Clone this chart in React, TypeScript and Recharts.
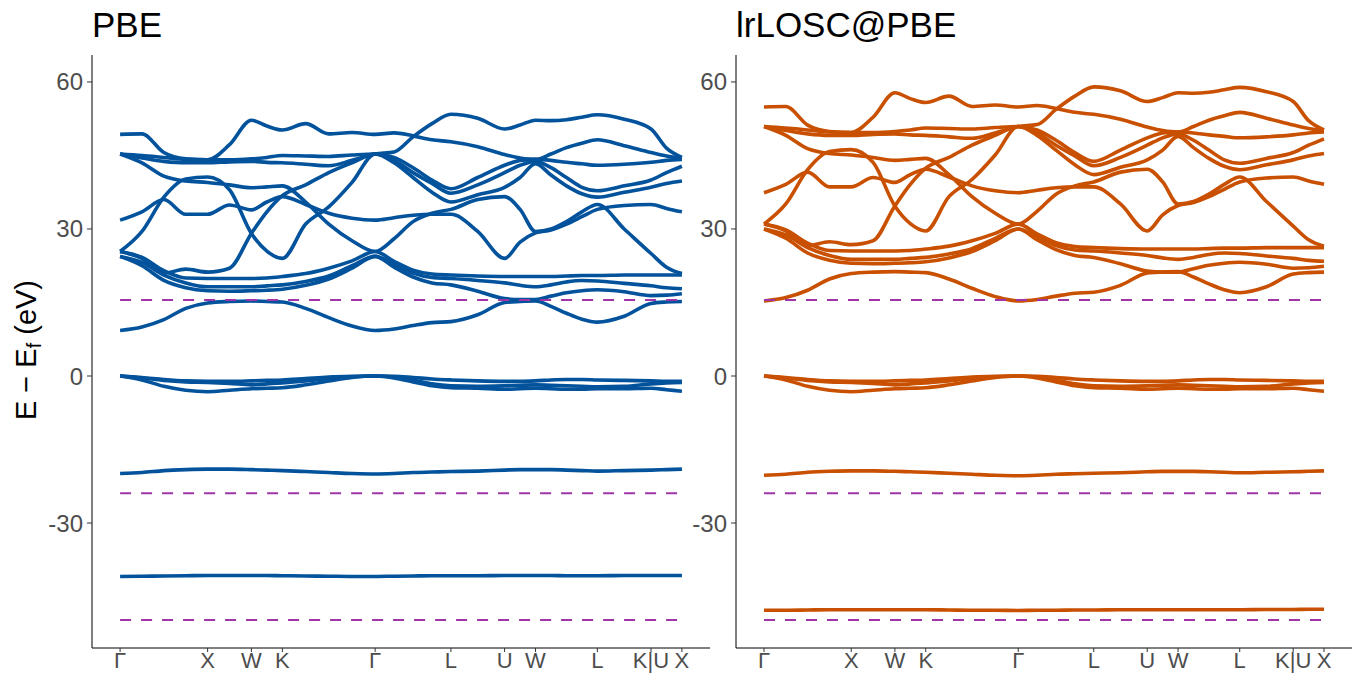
import React from 'react';
import { LineChart, Line, XAxis, YAxis, ReferenceLine } from 'recharts';

// k-path sample positions (units of 2π/a) along Γ-X-W-K-Γ-L-U-W-L-K|U-X
const kGrid = [0, 0.25, 0.5, 0.75, 1, 1.25, 1.5, 1.677, 1.854, 2.12, 2.384, 2.65, 2.914, 3.13, 3.347, 3.563, 3.78, 4.086, 4.393, 4.57, 4.746, 4.923, 5.1, 5.276, 5.453, 5.76, 6.066, 6.243, 6.419];
const kTicks = [0, 1, 1.5, 1.854, 2.914, 3.78, 4.393, 4.746, 5.453, 6.066, 6.419];
const kLabels = ['Γ', 'X', 'W', 'K', 'Γ', 'L', 'U', 'W', 'L', 'K|U', 'X'];
const yTicks = [-30, 0, 30, 60];
const refLevels = [15.5, -23.9, -49.8];

// ---------- PBE ----------
const pbeCore = [-40.9, -40.85, -40.8, -40.75, -40.7, -40.7, -40.7, -40.7, -40.75, -40.8, -40.85, -40.9, -40.9, -40.85, -40.8, -40.75, -40.75, -40.75, -40.7, -40.7, -40.7, -40.7, -40.75, -40.75, -40.75, -40.7, -40.7, -40.7, -40.7];
const pbeS = [-19.9, -19.7, -19.3, -19.1, -19.0, -19.0, -19.1, -19.2, -19.3, -19.5, -19.7, -19.9, -20.0, -19.9, -19.7, -19.6, -19.5, -19.4, -19.2, -19.1, -19.1, -19.1, -19.2, -19.3, -19.4, -19.3, -19.2, -19.1, -19.0];
const pbeV1 = [0, -0.3, -0.7, -1.0, -1.1, -1.1, -1.0, -0.9, -0.8, -0.5, -0.2, -0.05, 0, -0.05, -0.3, -0.6, -0.8, -1.0, -1.1, -1.1, -1.0, -0.8, -0.7, -0.7, -0.8, -0.9, -1.0, -1.1, -1.1];
const pbeV2 = [0, -0.4, -0.9, -1.2, -1.3, -1.5, -1.8, -1.6, -1.4, -1.0, -0.5, -0.15, 0, -0.2, -0.8, -1.6, -2.0, -2.1, -2.0, -1.9, -1.8, -1.9, -2.0, -2.1, -2.2, -2.1, -1.6, -1.4, -1.3];
const pbeV3 = [0, -0.8, -2.1, -2.9, -3.2, -2.9, -2.6, -2.5, -2.4, -1.8, -1.0, -0.3, 0, -0.4, -1.2, -2.0, -2.4, -2.5, -2.7, -2.6, -2.5, -2.6, -2.7, -2.7, -2.6, -2.6, -2.5, -2.8, -3.1];
const pbeC1 = [9.3, 10.0, 11.5, 13.8, 14.9, 15.2, 15.3, 15.2, 15.1, 13.8, 11.9, 10.2, 9.3, 9.6, 10.3, 10.9, 11.1, 12.5, 15.0, 15.2, 15.3, 14.2, 12.8, 11.6, 11.0, 12.2, 14.8, 15.1, 15.2];
const pbeC2 = [24.4, 22.5, 19.5, 18.0, 17.4, 17.3, 17.4, 17.5, 17.7, 18.5, 19.8, 22.0, 24.4, 22.2, 20.2, 19.0, 18.6, 17.3, 15.8, 15.6, 15.6, 16.3, 17.0, 17.4, 17.6, 17.2, 16.4, 16.5, 16.8];
const pbeC3 = [24.4, 23.2, 20.6, 19.0, 18.2, 18.2, 18.2, 18.4, 18.6, 19.3, 20.4, 22.5, 24.4, 22.8, 21.0, 20.1, 19.9, 19.5, 19.0, 18.5, 18.2, 18.6, 19.2, 19.5, 19.4, 18.9, 18.4, 18.0, 17.8];
const pbeC4 = [25.4, 24.2, 21.5, 20.0, 19.9, 19.9, 19.9, 20.0, 20.3, 20.9, 22.0, 23.5, 25.4, 23.4, 21.6, 20.8, 20.6, 20.4, 20.3, 20.3, 20.3, 20.3, 20.4, 20.5, 20.5, 20.6, 20.6, 20.6, 20.6];
const pbeC5 = [25.4, 24.0, 21.0, 21.8, 21.2, 22.0, 29.1, 33.5, 36.8, 39.0, 41.5, 43.5, 45.3, 43.5, 40.5, 37.5, 35.5, 37.0, 38.5, 40.5, 43.3, 41.0, 38.8, 37.2, 36.5, 37.5, 38.5, 39.3, 39.8];
const pbeC6 = [25.4, 29.5, 36.5, 40.2, 40.6, 38.0, 29.1, 25.5, 24.0, 31.0, 34.5, 39.5, 45.3, 44.0, 41.5, 39.3, 37.3, 39.0, 41.5, 43.0, 43.8, 42.5, 40.5, 38.5, 37.8, 38.8, 40.0, 41.5, 42.8];
const pbeC7 = [31.8, 33.5, 36.0, 33.0, 33.0, 34.9, 33.9, 35.5, 36.6, 35.0, 33.2, 32.2, 31.8, 32.3, 32.8, 33.0, 33.0, 29.5, 24.0, 27.3, 29.2, 29.8, 31.0, 32.5, 34.0, 34.8, 35.0, 34.2, 33.5];
const pbeC8 = [45.3, 43.5, 40.8, 39.8, 39.5, 39.0, 38.4, 38.6, 38.8, 35.5, 31.0, 27.6, 25.4, 28.0, 31.5, 33.2, 34.0, 36.0, 36.6, 34.0, 29.5, 30.0, 31.5, 33.5, 35.0, 30.0, 25.0, 22.2, 20.9];
const pbeC9 = [45.3, 45.0, 44.6, 44.2, 44.1, 44.1, 44.3, 44.6, 45.0, 44.9, 44.8, 45.1, 45.3, 44.6, 42.5, 40.0, 38.2, 40.5, 43.0, 44.0, 44.2, 44.0, 43.6, 43.3, 43.0, 43.2, 43.6, 44.0, 44.2];
const pbeC10 = [45.3, 44.5, 43.8, 43.5, 43.5, 43.7, 43.8, 43.6, 43.5, 43.2, 42.9, 44.0, 45.3, 45.7, 48.8, 51.5, 53.4, 52.6, 50.4, 51.2, 52.2, 52.1, 52.3, 52.8, 53.3, 52.4, 50.4, 46.5, 44.6];
const pbeC11 = [49.3, 49.4, 45.6, 44.3, 44.1, 47.2, 52.2, 51.0, 50.2, 51.5, 49.4, 49.7, 49.3, 49.6, 49.0, 48.2, 47.8, 46.8, 45.2, 44.5, 44.2, 45.3, 46.6, 47.5, 48.2, 47.0, 45.6, 44.9, 44.5];

// ---------- lrLOSC@PBE ----------
const loscCore = [-47.8, -47.8, -47.75, -47.7, -47.7, -47.7, -47.7, -47.7, -47.7, -47.75, -47.8, -47.8, -47.85, -47.8, -47.8, -47.75, -47.75, -47.7, -47.7, -47.7, -47.7, -47.7, -47.7, -47.7, -47.7, -47.65, -47.65, -47.6, -47.6];
const loscS = [-20.25, -20.05, -19.65, -19.45, -19.35, -19.35, -19.45, -19.55, -19.65, -19.85, -20.05, -20.25, -20.35, -20.25, -20.05, -19.95, -19.85, -19.75, -19.55, -19.45, -19.45, -19.45, -19.55, -19.65, -19.75, -19.65, -19.55, -19.45, -19.35];
const loscV1 = [0, -0.3, -0.7, -1.0, -1.1, -1.1, -1.0, -0.9, -0.8, -0.5, -0.2, -0.05, 0, -0.05, -0.3, -0.6, -0.8, -1.0, -1.1, -1.1, -1.0, -0.8, -0.7, -0.7, -0.8, -0.9, -1.0, -1.1, -1.1];
const loscV2 = [0, -0.4, -0.9, -1.2, -1.3, -1.5, -1.8, -1.6, -1.4, -1.0, -0.5, -0.15, 0, -0.2, -0.8, -1.6, -2.0, -2.1, -2.0, -1.9, -1.8, -1.9, -2.0, -2.1, -2.2, -2.1, -1.6, -1.4, -1.3];
const loscV3 = [0, -0.8, -2.1, -2.9, -3.2, -2.9, -2.6, -2.5, -2.4, -1.8, -1.0, -0.3, 0, -0.4, -1.2, -2.0, -2.4, -2.5, -2.7, -2.6, -2.5, -2.6, -2.7, -2.7, -2.6, -2.6, -2.5, -2.8, -3.1];
const loscC1 = [15.3, 16.0, 17.5, 19.8, 20.9, 21.2, 21.3, 21.2, 21.1, 19.8, 17.9, 16.2, 15.3, 15.6, 16.3, 16.9, 17.1, 18.5, 21.0, 21.2, 21.3, 20.2, 18.8, 17.6, 17.0, 18.2, 20.8, 21.1, 21.2];
const loscC2 = [30.0, 28.1, 25.1, 23.6, 23.0, 22.9, 23.0, 23.1, 23.3, 24.1, 25.4, 27.6, 30.0, 27.8, 25.8, 24.6, 24.2, 22.9, 21.4, 21.2, 21.2, 21.9, 22.6, 23.0, 23.2, 22.8, 22.0, 22.1, 22.4];
const loscC3 = [30.0, 28.8, 26.2, 24.6, 23.8, 23.8, 23.8, 24.0, 24.2, 24.9, 26.0, 28.1, 30.0, 28.4, 26.6, 25.7, 25.5, 25.1, 24.6, 24.1, 23.8, 24.2, 24.8, 25.1, 25.0, 24.5, 24.0, 23.6, 23.4];
const loscC4 = [31.0, 29.8, 27.1, 25.6, 25.5, 25.5, 25.5, 25.6, 25.9, 26.5, 27.6, 29.1, 31.0, 29.0, 27.2, 26.4, 26.2, 26.0, 25.9, 25.9, 25.9, 25.9, 26.0, 26.1, 26.1, 26.2, 26.2, 26.2, 26.2];
const loscC5 = [31.0, 29.6, 26.6, 27.4, 26.8, 27.6, 34.7, 39.1, 42.4, 44.6, 47.1, 49.1, 50.9, 49.1, 46.1, 43.1, 41.1, 42.6, 44.1, 46.1, 48.9, 46.6, 44.4, 42.8, 42.1, 43.1, 44.1, 44.9, 45.4];
const loscC6 = [31.0, 35.1, 42.1, 45.8, 46.2, 43.6, 34.7, 31.1, 29.6, 36.6, 40.1, 45.1, 50.9, 49.6, 47.1, 44.9, 42.9, 44.6, 47.1, 48.6, 49.4, 48.1, 46.1, 44.1, 43.4, 44.4, 45.6, 47.1, 48.4];
const loscC7 = [37.4, 39.1, 41.6, 38.6, 38.6, 40.5, 39.5, 41.1, 42.2, 40.6, 38.8, 37.8, 37.4, 37.9, 38.4, 38.6, 38.6, 35.1, 29.6, 32.9, 34.8, 35.4, 36.6, 38.1, 39.6, 40.4, 40.6, 39.8, 39.1];
const loscC8 = [50.9, 49.1, 46.4, 45.4, 45.1, 44.6, 44.0, 44.2, 44.4, 41.1, 36.6, 33.2, 31.0, 33.6, 37.1, 38.8, 39.6, 41.6, 42.2, 39.6, 35.1, 35.6, 37.1, 39.1, 40.6, 35.6, 30.6, 27.8, 26.5];
const loscC9 = [50.9, 50.6, 50.2, 49.8, 49.7, 49.7, 49.9, 50.2, 50.6, 50.5, 50.4, 50.7, 50.9, 50.2, 48.1, 45.6, 43.8, 46.1, 48.6, 49.6, 49.8, 49.6, 49.2, 48.9, 48.6, 48.8, 49.2, 49.6, 49.8];
const loscC10 = [50.9, 50.1, 49.4, 49.1, 49.1, 49.3, 49.4, 49.2, 49.1, 48.8, 48.5, 49.6, 50.9, 51.3, 54.4, 57.1, 59.0, 58.2, 56.0, 56.8, 57.8, 57.7, 57.9, 58.4, 58.9, 58.0, 56.0, 52.1, 50.2];
const loscC11 = [54.9, 55.0, 51.2, 49.9, 49.7, 52.8, 57.8, 56.6, 55.8, 57.1, 55.0, 55.3, 54.9, 55.2, 54.6, 53.8, 53.4, 52.4, 50.8, 50.1, 49.8, 50.9, 52.2, 53.1, 53.8, 52.6, 51.2, 50.5, 50.1];

const pbeBands = [pbeCore, pbeS, pbeV1, pbeV2, pbeV3, pbeC1, pbeC2, pbeC3, pbeC4, pbeC5, pbeC6, pbeC7, pbeC8, pbeC9, pbeC10, pbeC11];
const loscBands = [loscCore, loscS, loscV1, loscV2, loscV3, loscC1, loscC2, loscC3, loscC4, loscC5, loscC6, loscC7, loscC8, loscC9, loscC10, loscC11];

const FONT = '"Liberation Sans", Arial, Helvetica, sans-serif';

function buildRows(bands: number[][]) {
  return kGrid.map((k, i) => {
    const row: Record<string, number> = { k };
    bands.forEach((b, j) => {
      row['b' + j] = b[i];
    });
    return row;
  });
}

type PanelProps = { bands: number[][]; color: string; left: number; width: number; yAxisWidth: number };

function Panel({ bands, color, left, width, yAxisWidth }: PanelProps) {
  const rows = buildRows(bands);
  return (
    <div style={{ position: 'absolute', left, top: 0 }}>
      <LineChart width={width} height={673} data={rows} margin={{ top: 55, right: 2, bottom: 0, left: 0 }}>
        <XAxis
          dataKey="k"
          type="number"
          domain={[-0.321, 6.74]}
          ticks={kTicks}
          interval={0}
          allowDataOverflow
          tickFormatter={(v: number, i: number) => kLabels[i]}
          height={25}
          tickSize={4}
          tickMargin={0}
          tick={{ fill: '#4D4D4D', fontSize: 22, fontFamily: FONT }}
          tickLine={{ stroke: '#333333' }}
          axisLine={{ stroke: '#000000' }}
        />
        <YAxis
          type="number"
          domain={[-55.5, 65.5]}
          ticks={yTicks}
          allowDataOverflow
          width={yAxisWidth}
          tickSize={5}
          tickMargin={4}
          tick={{ fill: '#4D4D4D', fontSize: 24, fontFamily: FONT }}
          tickLine={{ stroke: '#333333' }}
          axisLine={{ stroke: '#000000' }}
        />
        {bands.map((_, j) => (
          <Line
            key={j}
            dataKey={'b' + j}
            type="monotone"
            stroke={color}
            strokeWidth={3.6}
            dot={false}
            activeDot={false}
            isAnimationActive={false}
          />
        ))}
        {refLevels.map((y) => (
          <ReferenceLine
            key={y}
            segment={[{ x: 0, y }, { x: 6.419, y }]}
            stroke="#A035A8"
            strokeWidth={2}
            strokeDasharray="11 10"
            ifOverflow="visible"
          />
        ))}
      </LineChart>
    </div>
  );
}

export default function App() {
  return (
    <div style={{ position: 'absolute', left: 0, top: 0, width: 1354, height: 673, background: '#fff', fontFamily: FONT, overflow: 'hidden' }}>
      <Panel bands={pbeBands} color="#02529C" left={0} width={712} yAxisWidth={92} />
      <Panel bands={loscBands} color="#C85000" left={650} width={704} yAxisWidth={86} />
      <div style={{ position: 'absolute', left: 92, top: 7, fontSize: 35, lineHeight: '35px', color: '#000', whiteSpace: 'nowrap' }}>PBE</div>
      <div style={{ position: 'absolute', left: 736, top: 7, fontSize: 35, lineHeight: '35px', color: '#000', whiteSpace: 'nowrap' }}>lrLOSC@PBE</div>
      <div
        style={{
          position: 'absolute',
          left: 28 - 130,
          top: 350 - 20,
          width: 260,
          height: 40,
          display: 'flex',
          alignItems: 'center',
          justifyContent: 'center',
          transform: 'rotate(-90deg)',
          fontSize: 29,
          color: '#000',
          whiteSpace: 'nowrap',
        }}
      >
        <span>
          E − E<sub style={{ fontSize: '0.68em', verticalAlign: '-0.25em' }}>f</sub> (eV)
        </span>
      </div>
    </div>
  );
}
